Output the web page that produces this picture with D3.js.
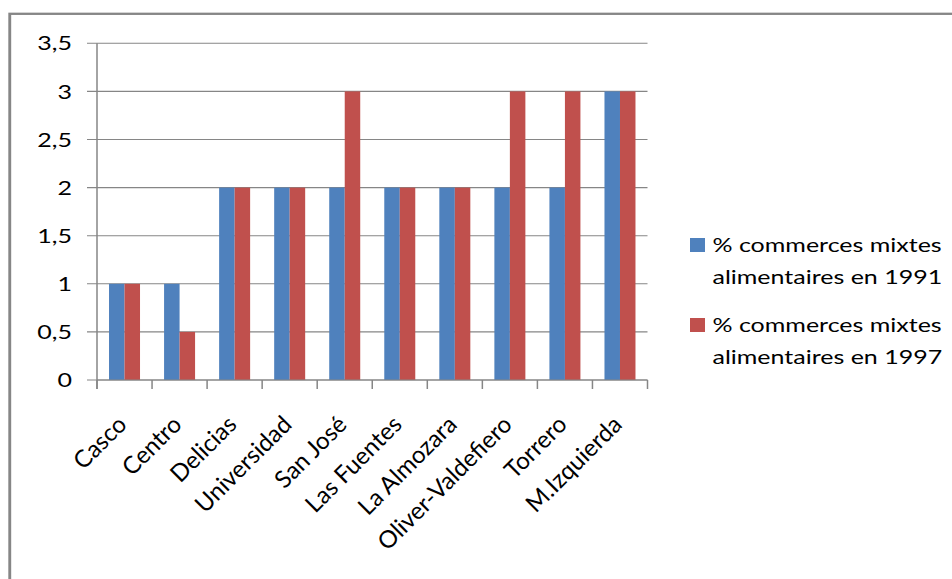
<!DOCTYPE html>
<html>
<head>
<meta charset="utf-8">
<script src="https://cdn.jsdelivr.net/npm/d3@7"></script>
<style>
html,body{margin:0;padding:0;background:#fff;overflow:hidden;}
svg{display:block;}
text{font-family:Lato,"Open Sans",sans-serif;fill:#000;}
</style>
</head>
<body>
<svg id="chart"></svg>
<script>
const categories = ["Casco","Centro","Delicias","Universidad","San José","Las Fuentes","La Almozara","Oliver-Valdefiero","Torrero","M.Izquierda"];
const values1991 = [1,1,2,2,2,2,2,2,2,3];
const values1997 = [1,0.5,2,2,3,2,2,3,3,3];
const seriesLines = [["% commerces mixtes","alimentaires en 1991"],["% commerces mixtes","alimentaires en 1997"]];
const yTicks = [0,0.5,1,1.5,2,2.5,3,3.5];
const colors = ["#4F81BD","#C0504D"];

(function(){
const W = 952, H = 579, SX = 1.25;  // picture is stretched horizontally
const VW = W / SX;
const svg = d3.select("#chart").attr("width", W).attr("height", H)
  .attr("viewBox", `0 0 ${VW} ${H}`).attr("preserveAspectRatio","none");

// outer border
svg.append("rect").attr("x",7.8).attr("y",13.8).attr("width",VW).attr("height",H)
  .attr("fill","#fff").attr("stroke","#868686").attr("stroke-width",2.3);

const pL = 77.6, pR = 518, pT = 43.3, pB = 380;
const x = d3.scaleBand().domain(categories).range([pL,pR]).padding(0);
const y = d3.scaleLinear().domain([0,3.5]).range([pB,pT]);
const gray = "#868686";

// gridlines + y ticks
svg.append("g").selectAll("line").data(yTicks).join("line")
  .attr("x1",pL-8).attr("x2",pR).attr("y1",d=>y(d)).attr("y2",d=>y(d))
  .attr("stroke",gray).attr("stroke-width",1.1);

svg.append("g").selectAll("text").data(yTicks).join("text")
  .attr("x",57.6).attr("y",d=>y(d)).attr("dy","0.36em")
  .attr("text-anchor","end").style("font-size","20px")
  .text(d=>String(d).replace(".",","));

// bars
const bw = 12.4;
const off = (x.bandwidth() - 2*bw)/2;
const data = categories.map((c,i)=>({c, v:[values1991[i], values1997[i]]}));
const gBars = svg.append("g");
[0,1].forEach(s=>{
  gBars.selectAll(".b"+s).data(data).join("rect").attr("class","b"+s)
    .attr("x",d=>x(d.c)+off+s*bw).attr("width",bw)
    .attr("y",d=>y(d.v[s])).attr("height",d=>y(0)-y(d.v[s]))
    .attr("fill",colors[s]);
});

// axes
svg.append("line").attr("x1",pL).attr("x2",pL).attr("y1",pT).attr("y2",pB+9)
  .attr("stroke",gray).attr("stroke-width",1.2);
svg.append("line").attr("x1",pL).attr("x2",pR).attr("y1",pB).attr("y2",pB)
  .attr("stroke",gray).attr("stroke-width",1.2);
const bounds = categories.map(c=>x(c)).concat([pR]);
svg.append("g").selectAll("line").data(bounds).join("line")
  .attr("x1",d=>d).attr("x2",d=>d).attr("y1",pB).attr("y2",pB+9)
  .attr("stroke",gray).attr("stroke-width",1.2);

// x labels (counter the horizontal stretch so they sit at 45deg on screen)
svg.append("g").selectAll("text").data(categories).join("text")
  .attr("text-anchor","end").style("font-size","24px")
  .attr("transform",d=>`translate(${x(d)+x.bandwidth()/2+2.8},${426}) scale(${1/SX},1) rotate(-45)`)
  .text(d=>d);

// legend
const legY = [245, 325];
const lg = svg.append("g");
seriesLines.forEach((lines,i)=>{
  lg.append("rect").attr("x",552).attr("y",legY[i]-7).attr("width",12).attr("height",14)
    .attr("fill",colors[i]);
  const t = lg.append("text").attr("x",570).attr("y",legY[i]+7.3).style("font-size","20px");
  lines.forEach((l,j)=>{
    t.append("tspan").attr("x",570).attr("dy", j===0?0:31.5).text(l);
  });
});
})();
</script>
</body>
</html>
